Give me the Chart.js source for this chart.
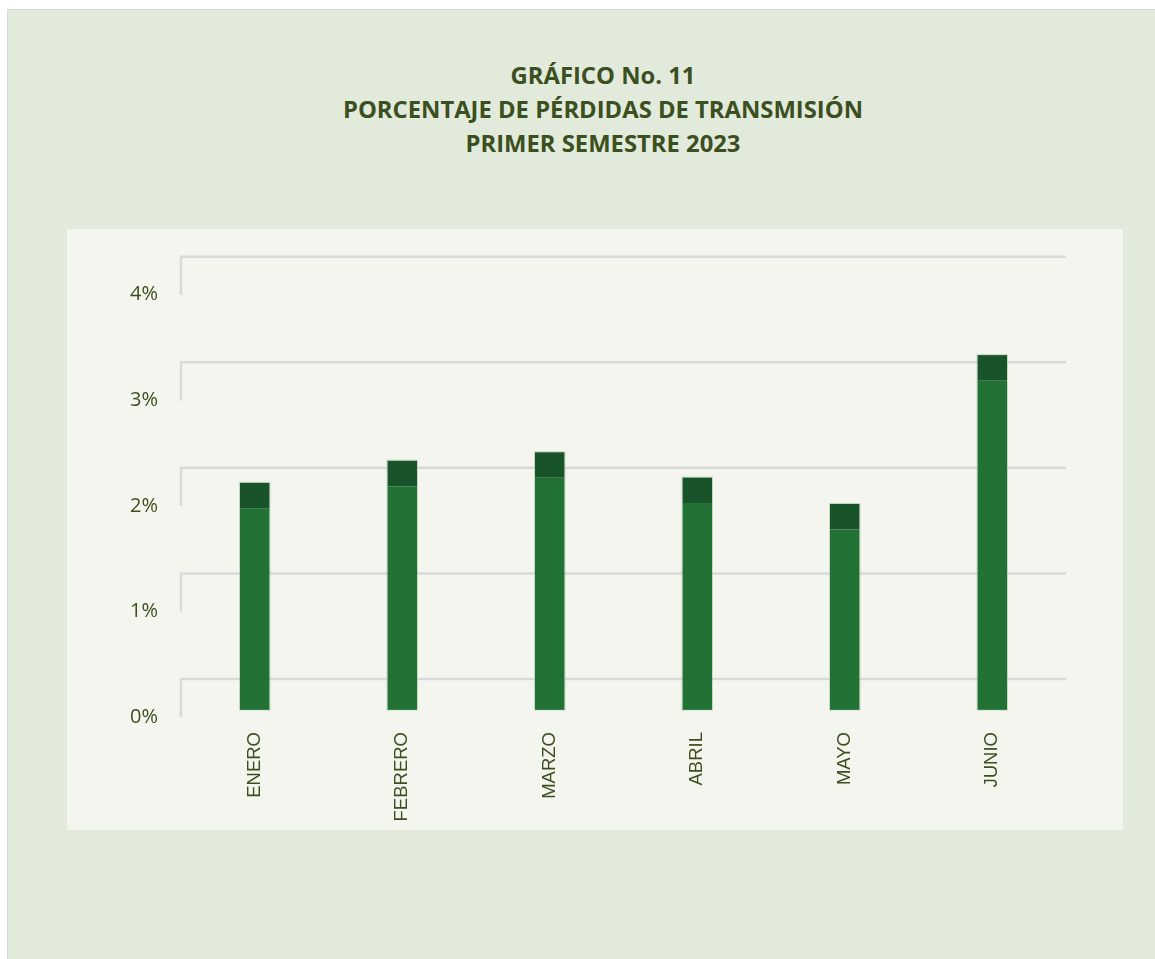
<!DOCTYPE html>
<html>
<head>
<meta charset="utf-8">
<script src="https://cdn.jsdelivr.net/npm/chart.js@4"></script>
<style>
  body { margin: 0; background: #ffffff; width: 1155px; height: 959px; overflow: hidden; position: relative; }
  .marco { position: absolute; left: 7px; top: 9px; width: 1160px; height: 960px; background: #e2eadb; border: 1px solid #d9d9d9; }
  .titulo { position: absolute; left: 253px; width: 700px; top: 58px; margin: 0; text-align: center;
            font-family: 'Open Sans', sans-serif; font-weight: 700; font-size: 23.8px; line-height: 34px; color: #3b4f1f; }
  .panel { position: absolute; left: 67px; top: 229px; width: 1056px; height: 601px; background: #f5f5ef; }
  canvas { display: block; }
</style>
</head>
<body>
<div class="marco"></div>
<h2 class="titulo">GRÁFICO No. 11<br>PORCENTAJE DE PÉRDIDAS DE TRANSMISIÓN<br>PRIMER SEMESTRE 2023</h2>
<div class="panel"><canvas id="perdidasChart" width="1056" height="601"></canvas></div>
<script>
const meses = ['ENERO', 'FEBRERO', 'MARZO', 'ABRIL', 'MAYO', 'JUNIO'];
const perdidas = [1.91, 2.12, 2.20, 1.96, 1.71, 3.12];
const ticksY = [0, 1, 2, 3, 4];

const colorBarra = '#217234';
const colorTapa = '#18532a';
const colorRejilla = '#d9d9d9';
const colorTexto = '#3b4f1f';

// rejilla de fondo desplazada (efecto 3D) y tapas oscuras de las columnas
const fondo3d = {
    id: 'fondo3d',
    beforeDatasetsDraw(chart) {
        const ctx = chart.ctx;
        const y = chart.scales.y;
        const area = chart.chartArea;
        ctx.save();
        ctx.strokeStyle = colorRejilla;
        ctx.lineWidth = 2.5;
        y.ticks.forEach(t => {
            const py = y.getPixelForValue(t.value) - 31;
            ctx.beginPath();
            ctx.moveTo(area.left, py + 38);
            ctx.lineTo(area.left, py);
            ctx.lineTo(area.right, py);
            ctx.stroke();
        });
        ctx.restore();
    },
    afterDatasetsDraw(chart) {
        const ctx = chart.ctx;
        ctx.save();
        ctx.fillStyle = colorTapa;
        ctx.strokeStyle = 'rgba(150, 190, 150, 0.5)';
        ctx.lineWidth = 1;
        chart.getDatasetMeta(0).data.forEach(bar => {
            const x0 = bar.x - bar.width / 2;
            ctx.fillRect(x0, bar.y - 25.5, bar.width, 25.5);
            ctx.strokeRect(x0 - 0.5, bar.y - 26, bar.width + 1, bar.base - bar.y + 26);
        });
        ctx.restore();
    }
};

var ctx = document.getElementById('perdidasChart').getContext('2d');
var perdidasChart = new Chart(ctx, {
    type: 'bar',
    data: {
        labels: meses,
        datasets: [{
            label: 'Pérdidas',
            backgroundColor: colorBarra,
            borderWidth: 0,
            barPercentage: 0.2,
            categoryPercentage: 1,
            data: perdidas
        }]
    },
    options: {
        responsive: false,
        animation: false,
        layout: { padding: { top: 27, right: 57, left: 0, bottom: 0 } },
        plugins: { legend: { display: false }, tooltip: { enabled: false } },
        scales: {
            x: {
                grid: { display: false, drawTicks: false },
                border: { display: false },
                afterFit(scale) { scale.height = 120; scale.paddingLeft = 0; scale.paddingRight = 0; },
                ticks: {
                    minRotation: 90,
                    maxRotation: 90,
                    padding: 22,
                    color: colorTexto,
                    font: { family: "'Liberation Sans', Arial, sans-serif", size: 18.5 }
                }
            },
            y: {
                min: 0,
                max: 4.3,
                grid: { display: false, drawTicks: false },
                border: { display: false },
                afterFit(scale) { scale.width = 114; scale.paddingTop = 0; scale.paddingBottom = 0; },
                afterBuildTicks(scale) { scale.ticks = ticksY.map(v => ({ value: v })); },
                ticks: {
                    labelOffset: 7,
                    padding: 23,
                    color: colorTexto,
                    font: { family: "'Open Sans', sans-serif", size: 20 },
                    callback: v => v + '%'
                }
            }
        }
    },
    plugins: [fondo3d]
});
</script>
</body>
</html>
